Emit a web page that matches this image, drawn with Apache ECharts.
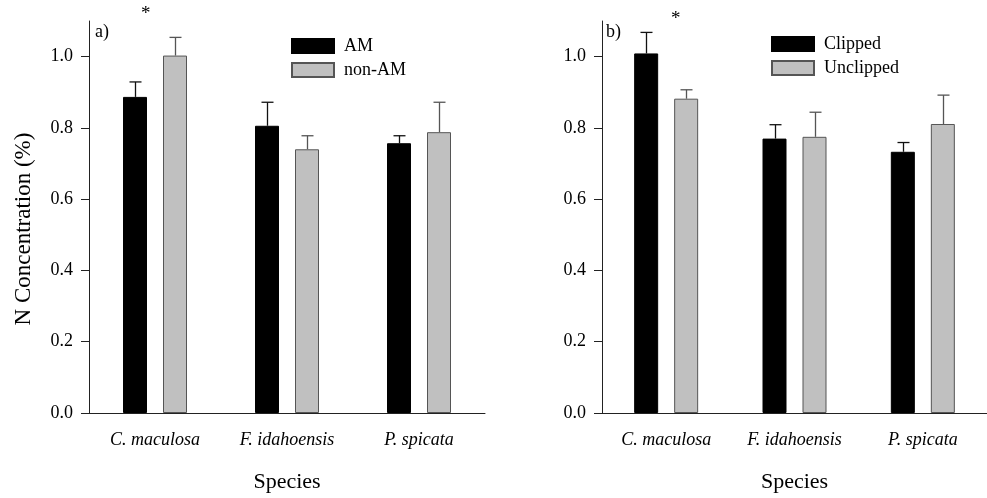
<!DOCTYPE html>
<html>
<head>
<meta charset="utf-8">
<script src="https://cdn.jsdelivr.net/npm/echarts@6/dist/echarts.min.js"></script>
<style>html,body{margin:0;padding:0;background:#fff}#c{width:987px;height:498px}</style>
</head>
<body>
<div id="c"></div>
<script>
// ---- data ----
var species = ['C. maculosa', 'F. idahoensis', 'P. spicata'];
var yTicks = [0, 0.2, 0.4, 0.6, 0.8, 1.0];
// panel a
var amMean = [0.887, 0.806, 0.757];
var amErr = [0.042, 0.066, 0.021];
var nonAmMean = [1.003, 0.740, 0.788];
var nonAmErr = [0.051, 0.038, 0.084];
// panel b
var clippedMean = [1.009, 0.770, 0.733];
var clippedErr = [0.059, 0.039, 0.026];
var unclippedMean = [0.882, 0.775, 0.811];
var unclippedErr = [0.025, 0.069, 0.081];

var FONT = '"Liberation Serif", "Times New Roman", serif';
var BAR_W = 24, BAR_GAP_PX = 16;
var GRAY = '#c0c0c0';

function errSeries(name, xi, yi, means, errs, side, color) {
  var data = means.map(function (m, i) { return [i, m, m + errs[i]]; });
  return {
    name: name + ' err', type: 'custom', xAxisIndex: xi, yAxisIndex: yi, z: 1,
    silent: true, legendHoverLink: false,
    renderItem: function (params, api) {
      var base = api.coord([api.value(0), api.value(1)]);
      var top = api.coord([api.value(0), api.value(2)]);
      var off = side * (BAR_W + BAR_GAP_PX) / 2;
      var x = Math.round(base[0] + off) + 0.5;
      var cap = 6;
      return {
        type: 'group',
        children: [
          { type: 'line', shape: { x1: x, y1: base[1], x2: x, y2: top[1] }, style: { stroke: color, lineWidth: 1.3 } },
          { type: 'line', shape: { x1: x - cap, y1: top[1], x2: x + cap, y2: top[1] }, style: { stroke: color, lineWidth: 1.3 } }
        ]
      };
    },
    data: data
  };
}

function barSeries(name, xi, yi, means, fill, border) {
  return {
    name: name, type: 'bar', xAxisIndex: xi, yAxisIndex: yi, z: 2,
    barWidth: BAR_W, barGap: (BAR_GAP_PX / BAR_W * 100) + '%',
    itemStyle: { color: fill, borderColor: border, borderWidth: 1 },
    emphasis: { disabled: true },
    data: means
  };
}

function xAxis(gi) {
  return {
    type: 'category', gridIndex: gi, data: species,
    name: 'Species', nameLocation: 'middle', nameGap: 58,
    nameTextStyle: { fontFamily: FONT, fontSize: 22, color: '#000' },
    axisLine: { lineStyle: { color: '#222', width: 1 } },
    axisTick: { alignWithLabel: true, length: 7, lineStyle: { color: '#222' } },
    axisLabel: { fontFamily: FONT, fontSize: 18, fontStyle: 'italic', color: '#000', margin: 18 },
    splitLine: { show: false }
  };
}
function yAxis(gi) {
  return {
    type: 'value', gridIndex: gi, min: 0, max: 1.1, interval: 0.2,
    axisLine: { show: true, lineStyle: { color: '#222', width: 1 } },
    axisTick: { show: true, length: 8, lineStyle: { color: '#222' } },
    axisLabel: {
      fontFamily: FONT, fontSize: 18, color: '#000', margin: 16,
      formatter: function (v) { return yTicks.indexOf(Math.round(v * 10) / 10) >= 0 ? v.toFixed(1) : ''; },
      showMaxLabel: false
    },
    splitLine: { show: false }
  };
}

function legend(left, top, names) {
  return {
    orient: 'vertical', left: left, top: top, padding: 0,
    itemWidth: 42, itemHeight: 14, itemGap: 6,
    icon: 'rect', selectedMode: false,
    textStyle: { fontFamily: FONT, fontSize: 18, color: '#000', padding: [0, 0, 0, 5] },
    data: names
  };
}

var chart = echarts.init(document.getElementById('c'), null, { renderer: 'canvas' });
chart.setOption({
  animation: false,
  backgroundColor: '#fff',
  grid: [
    { left: 89, right: 502, top: 21, bottom: 81.3 },
    { left: 602, right: -11, top: 21, bottom: 81.3 }
  ],
  xAxis: [xAxis(0), xAxis(1)],
  yAxis: [yAxis(0), yAxis(1)],
  legend: [
    legend(291, 37, ['AM', 'non-AM']),
    legend(771, 35, ['Clipped', 'Unclipped'])
  ],
  graphic: [
    { type: 'text', left: 95, top: 23, style: { text: 'a)', font: '18px ' + FONT, fill: '#000' } },
    { type: 'text', left: 606, top: 23, style: { text: 'b)', font: '18px ' + FONT, fill: '#000' } },
    { type: 'text', left: 141, top: 5, style: { text: '*', font: '19px ' + FONT, fill: '#000' } },
    { type: 'text', left: 671, top: 10, style: { text: '*', font: '19px ' + FONT, fill: '#000' } },
    { type: 'text', x: 24, y: 229, rotation: Math.PI / 2,
      style: { text: 'N Concentration (%)', font: '23px ' + FONT, fill: '#000', align: 'center', verticalAlign: 'middle' } }
  ],
  series: [
    barSeries('AM', 0, 0, amMean, '#000', '#000'),
    barSeries('non-AM', 0, 0, nonAmMean, GRAY, '#555'),
    errSeries('AM', 0, 0, amMean, amErr, -1, '#111'),
    errSeries('non-AM', 0, 0, nonAmMean, nonAmErr, 1, '#555'),
    barSeries('Clipped', 1, 1, clippedMean, '#000', '#000'),
    barSeries('Unclipped', 1, 1, unclippedMean, GRAY, '#555'),
    errSeries('Clipped', 1, 1, clippedMean, clippedErr, -1, '#111'),
    errSeries('Unclipped', 1, 1, unclippedMean, unclippedErr, 1, '#555')
  ]
});
</script>
</body>
</html>
